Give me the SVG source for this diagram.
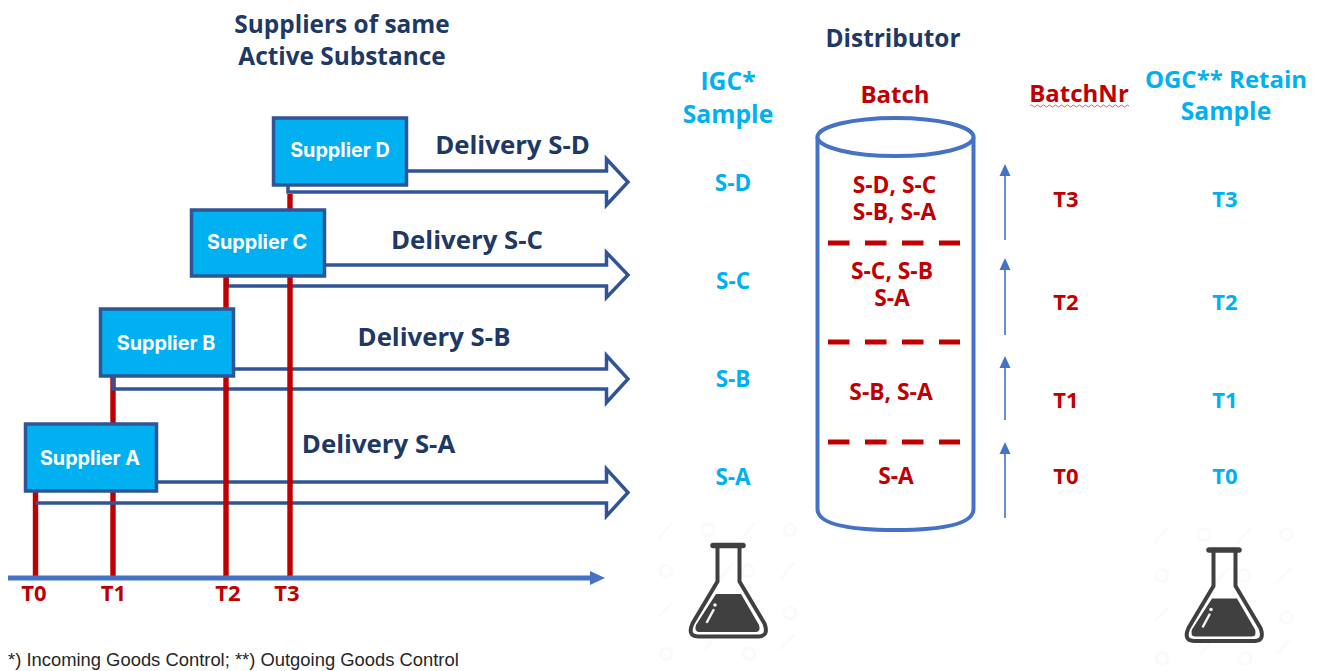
<svg xmlns="http://www.w3.org/2000/svg" xmlns:xlink="http://www.w3.org/1999/xlink" width="1323" height="671" viewBox="0 0 1323 671">
<style>
text{font-family:"Open Sans","Noto Sans","Liberation Sans",sans-serif;font-weight:700;text-anchor:middle}
.title{fill:#203864;font-size:24.400px}
.del{fill:#203864;font-size:25.800px}
.red{fill:#c00000;font-size:22.800px}
.tm{fill:#c00000;font-size:22px}
.head{fill:#c00000;font-size:24px}
.cy{fill:#00b0f0;font-size:22.500px}
.tc{fill:#00b0f0;font-size:22px}
.cyh{fill:#00b0f0;font-size:24.700px}
.sup{font-family:Inter,Roboto,"Liberation Sans",sans-serif;fill:#fff;font-size:19.800px}
.box{fill:#00b0f0;stroke:#2f5597;stroke-width:3.500}
.arr{fill:none;stroke:#2f5597;stroke-width:3.500}
.rl{stroke:#c00000;stroke-width:5.400;fill:none}
.dash{stroke:#c00000;stroke-width:5;stroke-dasharray:21.500 15.500;fill:none}
.up{stroke:#4472c4;stroke-width:1.600;fill:none}
.wm{stroke:#fafafa;stroke-width:2.500;fill:none;stroke-linecap:round}
</style>
<defs>
<path id="ah" d="M0 0L-5.500 12H5.500Z" fill="#4472c4"/>
<g id="flask">
<g class="wm"><path d="M659 538L671 524M742 538L754 524M720 578L733 564M781 578L794 564M659 616L671 604M781 649L794 635M705 649L717 635"/><circle cx="708" cy="530" r="6"/><circle cx="790" cy="530" r="6"/><circle cx="666" cy="571" r="6"/><circle cx="748" cy="571" r="6"/><circle cx="790" cy="613" r="6"/><circle cx="666" cy="654" r="6"/><circle cx="749" cy="654" r="6"/></g>
<path d="M713 545.500H743" fill="none" stroke="#404040" stroke-width="5.500" stroke-linecap="round"/>
<path d="M717.500 546V581.500L692.500 623.500Q687 636 698 636.500H759Q769 636 764.500 623.500L739.500 581.500V546" fill="none" stroke="#404040" stroke-width="4"/>
<path d="M716 594H741L759 625Q761 631.500 756 632H699Q694 631.500 696 625Z" fill="#404040"/>
<path d="M707 622L713.500 610" fill="none" stroke="#f2f2f2" stroke-width="2.500" stroke-linecap="round"/>
<circle cx="715" cy="605" r="1.800" fill="#f2f2f2"/>
</g>
</defs>
<rect width="1323" height="671" fill="#fff"/>

<g id="connectors">
<path class="rl" d="M35.500 491V577M113 376V577"/>
<path class="arr" d="M157 482H606.500V469L628 492.500L606.500 516V503H35.500"/>
<path class="arr" d="M234 369H606.500V355.500L628 379L606.500 402.500V389H113V376"/>
<path class="arr" d="M325 265H606.500V252.500L628 275L606.500 297.500V286H227V276"/>
<path class="arr" d="M407 171H606.500V159L628 182L606.500 205V192H288V185"/>
<path class="rl" d="M226 276V577M290 194V577"/>
<path d="M8 578H591" stroke="#4472c4" stroke-width="5" fill="none"/>
<path d="M590 571L605 578L590 585Z" fill="#4472c4"/>
<path class="up" d="M1005 240V176M1005 335V270M1005 420V367M1005 518V454"/>
<use xlink:href="#ah" href="#ah" x="1005" y="164"/>
<use xlink:href="#ah" href="#ah" x="1005" y="258"/>
<use xlink:href="#ah" href="#ah" x="1005" y="356"/>
<use xlink:href="#ah" href="#ah" x="1005" y="442"/>
</g>

<g id="supplier-d"><rect class="box" x="273.500" y="118" width="133" height="67"/><text class="sup" x="340" y="157">Supplier D</text></g>
<g id="supplier-c"><rect class="box" x="191.500" y="210" width="133" height="66"/><text class="sup" x="257" y="249">Supplier C</text></g>
<g id="supplier-b"><rect class="box" x="100.500" y="309" width="133" height="67"/><text class="sup" x="166" y="350">Supplier B</text></g>
<g id="supplier-a"><rect class="box" x="25.500" y="424" width="131" height="67"/><text class="sup" x="90" y="465">Supplier A</text></g>

<g id="title"><text class="title" x="342" y="33">Suppliers of same</text><text class="title" x="342" y="65">Active Substance</text></g>
<g id="delivery-labels">
<text class="del" x="512.500" y="154">Delivery S-D</text>
<text class="del" x="467" y="249">Delivery S-C</text>
<text class="del" x="434" y="346">Delivery S-B</text>
<text class="del" x="378.500" y="453">Delivery S-A</text>
</g>
<g id="time-labels">
<text class="tm" x="34" y="601">T0</text><text class="tm" x="113.500" y="601">T1</text><text class="tm" x="228" y="601">T2</text><text class="tm" x="287" y="601">T3</text>
</g>

<g id="distributor-title"><text class="title" x="893" y="47">Distributor</text></g>
<g id="igc"><text class="cyh" x="728" y="90">IGC*</text><text class="cyh" x="728" y="123">Sample</text>
<text class="cy" x="733" y="191">S-D</text><text class="cy" x="733" y="289">S-C</text><text class="cy" x="733" y="387">S-B</text><text class="cy" x="733" y="485">S-A</text></g>

<g id="batch-cylinder">
<path d="M817.500 137V509Q817.500 530 895.500 530T973.500 509V137" fill="#fff" stroke="#4472c4" stroke-width="4"/>
<ellipse cx="895.500" cy="137" rx="78" ry="19" fill="#fff" stroke="#4472c4" stroke-width="4"/>
<path class="dash" d="M828 243H960M828 342H960M828 442H960"/>
<text class="head" x="895" y="103">Batch</text>
<text class="red"><tspan x="894.500" y="193">S-D, S-C</tspan><tspan x="894.500" y="220">S-B, S-A</tspan></text>
<text class="red"><tspan x="892" y="278.500">S-C, S-B</tspan><tspan x="892" y="305.500">S-A</tspan></text>
<text class="red" x="891" y="399.500">S-B, S-A</text>
<text class="red" x="896" y="483.500">S-A</text>
</g>

<g id="batchnr"><text class="head" x="1079" y="102">BatchNr</text>
<path d="M1030 106q1.500 -2 3 0t3 0t3 0t3 0t3 0t3 0t3 0t3 0t3 0t3 0t3 0t3 0t3 0t3 0t3 0t3 0t3 0t3 0t3 0t3 0t3 0t3 0t3 0t3 0t3 0t3 0t3 0t3 0t3 0t3 0t3 0t3 0t3 0" fill="none" stroke="#e06060" stroke-width="1"/>
<text class="tm" x="1066" y="207">T3</text><text class="tm" x="1066" y="310">T2</text><text class="tm" x="1066" y="408">T1</text><text class="tm" x="1066" y="484">T0</text></g>

<g id="ogc"><text class="cyh" x="1226" y="88" style="font-size:24px">OGC** Retain</text><text class="cyh" x="1226" y="120">Sample</text>
<text class="tc" x="1225" y="207">T3</text><text class="tc" x="1225" y="310">T2</text><text class="tc" x="1225" y="408">T1</text><text class="tc" x="1225" y="484">T0</text></g>

<g id="flask-igc"><use xlink:href="#flask" href="#flask"/></g>
<g id="flask-ogc"><use xlink:href="#flask" href="#flask" x="496" y="4.500"/></g>

<text x="8" y="666" style="font-family:'Liberation Sans',Arial,sans-serif;font-weight:400;font-size:18.400px;text-anchor:start;fill:#262626">*) Incoming Goods Control; **) Outgoing Goods Control</text>
</svg>
